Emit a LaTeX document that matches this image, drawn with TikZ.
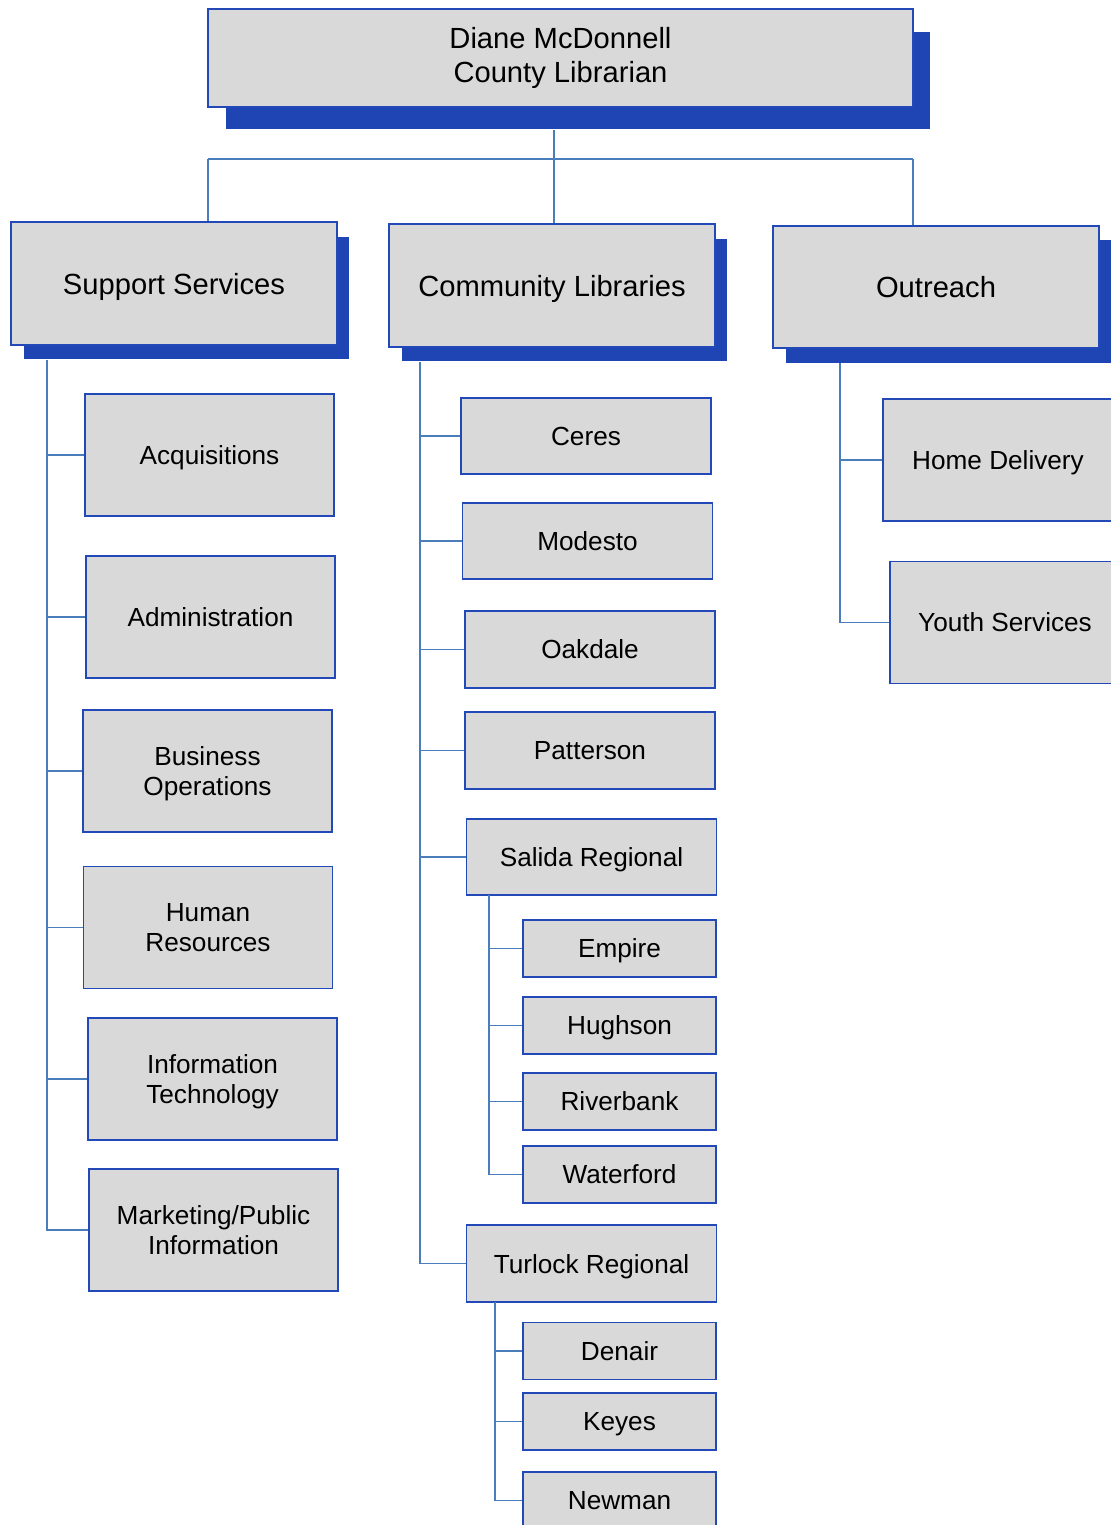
\documentclass[tikz,border=0pt]{standalone}
\usepackage{fontspec}
\setmainfont{Liberation Sans}
\usetikzlibrary{positioning,shadows}

\definecolor{boxfill}{HTML}{D9D9D9}
\definecolor{boxline}{HTML}{2348B8}
\definecolor{shade}{HTML}{1F45B5}
\definecolor{linkline}{HTML}{4A7EBB}

\begin{document}
\begin{tikzpicture}[x=0.02cm,y=-0.02cm,
  box/.style={draw=boxline,line width=1.1pt,fill=boxfill,align=center,inner sep=2pt,text depth=0pt,font=\fontsize{14.9}{17.3}\selectfont},
  topbox/.style={box,text depth=,minimum width=14.1cm,minimum height=1.96cm,font=\fontsize{16.6}{19.3}\selectfont,
    drop shadow={shadow xshift=0.35cm,shadow yshift=-0.45cm,fill=shade,opacity=1}},
  deptbox/.style={box,minimum width=6.52cm,minimum height=2.45cm,font=\fontsize{16.6}{19.3}\selectfont,
    drop shadow={shadow xshift=0.25cm,shadow yshift=-0.29cm,fill=shade,opacity=1}},
  unitbox/.style={box,minimum width=4.98cm,minimum height=2.44cm},
  branchbox/.style={box,minimum width=5cm,minimum height=1.53cm},
  subbox/.style={box,minimum width=3.86cm,minimum height=1.14cm},
  outbox/.style={box,minimum width=4.6cm,minimum height=2.44cm},
  link/.style={draw=linkline,line width=1pt}]
  \useasboundingbox (0,0) rectangle (1110,1525);

  % head
  \node[topbox] (dir) at (560.5,58) {Diane McDonnell\\County Librarian};

  % departments
  \node[deptbox] (sup) at (174,283.5) {Support Services};
  \node[deptbox] (com) at (552,285.5) {Community Libraries};
  \node[deptbox] (out) at (936,287) {Outreach};

  % support services
  \node[unitbox] (acq) at (209.5,455) {Acquisitions};
  \node[unitbox] (adm) at (210.5,617) {Administration};
  \node[unitbox] (bus) at (207.5,771) {Business\\Operations};
  \node[unitbox] (hum) at (208,927.5) {Human\\Resources};
  \node[unitbox] (inf) at (212.5,1079) {Information\\Technology};
  \node[unitbox] (mkt) at (213.5,1230) {Marketing/Public\\Information};

  % community libraries
  \node[branchbox] (cer) at (586,436) {Ceres};
  \node[branchbox] (mod) at (587.5,541) {Modesto};
  \node[branchbox] (oak) at (590,649.5) {Oakdale};
  \node[branchbox] (pat) at (590,750.5) {Patterson};
  \node[branchbox] (sal) at (591.5,857) {Salida Regional};
  \node[subbox] (emp) at (619.5,948.5) {Empire};
  \node[subbox] (hug) at (619.5,1025.5) {Hughson};
  \node[subbox] (riv) at (619.5,1101.5) {Riverbank};
  \node[subbox] (wat) at (619.5,1174.5) {Waterford};
  \node[branchbox] (tur) at (591.5,1263.5) {Turlock Regional};
  \node[subbox] (den) at (619.5,1351) {Denair};
  \node[subbox] (key) at (619.5,1421.5) {Keyes};
  \node[subbox] (new) at (619.5,1500.5) {Newman};

  % outreach
  \node[outbox] (hom) at (998,460) {Home Delivery};
  \node[outbox] (yth) at (1005,622.5) {Youth Services};

  % connectors
  \coordinate (dirT) at (554,130); \coordinate (bar) at (554,159);
  \coordinate (barL) at (208,159); \coordinate (barR) at (913,159);
  \draw[link] (dirT) -- (bar); \draw[link] (barL) -- (barR);
  \draw[link] (barL) -- (sup.north -| barL);
  \draw[link] (bar) -- (com.north -| bar);
  \draw[link] (barR) -- (out.north -| barR);

  \coordinate (supT) at (47,360);
  \foreach \n in {acq,adm,bus,hum,inf,mkt} \draw[link] (supT) |- (\n);
  \coordinate (comT) at (420,362);
  \foreach \n in {cer,mod,oak,pat,sal,tur} \draw[link] (comT) |- (\n);
  \coordinate (salT) at (489,895);
  \foreach \n in {emp,hug,riv,wat} \draw[link] (salT) |- (\n);
  \coordinate (turT) at (495,1302);
  \foreach \n in {den,key,new} \draw[link] (turT) |- (\n);
  \coordinate (outT) at (840,363);
  \foreach \n in {hom,yth} \draw[link] (outT) |- (\n);
\end{tikzpicture}
\end{document}
